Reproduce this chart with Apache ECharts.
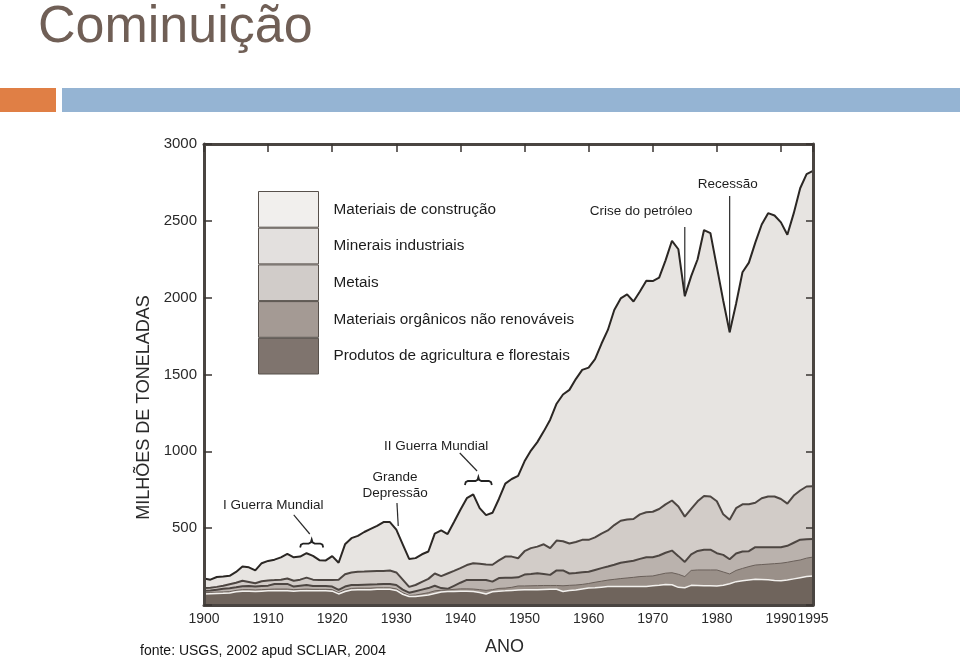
<!DOCTYPE html>
<html>
<head>
<meta charset="utf-8">
<script src="https://cdn.jsdelivr.net/npm/echarts@6/dist/echarts.min.js"></script>
<style>html,body{margin:0;padding:0;background:#ffffff}#c{width:960px;height:661px}</style>
</head>
<body>
<div id="c"></div>
<script>
// Anos (eixo X)
const anos = [1900,1901,1902,1903,1904,1905,1906,1907,1908,1909,
1910,1911,1912,1913,1914,1915,1916,1917,1918,1919,
1920,1921,1922,1923,1924,1925,1926,1927,1928,1929,
1930,1931,1932,1933,1934,1935,1936,1937,1938,1939,
1940,1941,1942,1943,1944,1945,1946,1947,1948,1949,
1950,1951,1952,1953,1954,1955,1956,1957,1958,1959,
1960,1961,1962,1963,1964,1965,1966,1967,1968,1969,
1970,1971,1972,1973,1974,1975,1976,1977,1978,1979,
1980,1981,1982,1983,1984,1985,1986,1987,1988,1989,
1990,1991,1992,1993,1994,1995];

// Topo de cada camada empilhada (valores acumulados, milhões de toneladas)
const topoConstrucao = [172,165,182,185,190,215,250,245,225,272,
287,295,310,332,310,315,337,320,292,290,
318,275,395,435,450,475,495,515,540,540,
490,395,300,305,330,348,465,485,462,540,
620,695,720,630,585,600,690,790,820,840,
935,1005,1060,1130,1206,1310,1370,1400,1470,1530,
1545,1600,1700,1790,1920,1995,2021,1975,2040,2110,
2108,2130,2243,2370,2315,2010,2140,2250,2440,2420,
2200,1980,1775,1960,2165,2228,2358,2476,2550,2535,
2490,2410,2550,2712,2804,2825];

const topoMinerais = [110,112,118,125,135,145,158,150,142,155,
160,162,165,172,158,165,178,165,163,163,
163,165,200,212,217,218,220,222,222,224,
212,165,118,130,150,170,205,188,205,222,
240,260,272,268,264,262,290,315,315,304,
350,370,380,395,370,419,415,400,410,424,
424,440,465,485,520,548,556,560,590,604,
607,625,655,680,641,575,625,675,710,706,
675,590,555,630,655,656,665,695,706,706,
690,660,712,745,771,772];

const topoMetais = [92,95,100,105,109,115,122,124,120,124,
126,137,137,137,120,125,130,124,124,124,
120,98,120,130,130,132,134,135,137,137,
130,100,80,90,100,110,125,110,105,125,
145,163,163,163,163,152,175,177,178,180,
198,202,207,202,196,225,225,205,208,213,
216,228,240,250,262,275,282,288,300,311,
311,322,340,354,318,280,330,352,360,360,
337,326,298,335,348,350,376,376,376,376,
376,385,405,425,428,430];

const topoOrganicos = [80,82,84,85,87,95,100,100,98,100,
102,104,104,104,100,102,104,102,102,102,
100,80,98,108,110,110,110,112,112,112,
105,80,62,65,72,80,92,96,98,102,
105,105,104,100,95,100,108,110,115,124,
124,125,126,127,127,127,125,128,130,134,
140,148,155,162,167,172,176,180,185,187,
189,198,207,210,200,185,225,228,228,228,
228,215,202,225,238,250,260,263,266,269,
272,278,286,293,305,312];

const topoAgricultura = [72,74,75,76,78,86,90,90,88,90,
92,93,93,93,90,92,93,92,92,92,
90,72,88,98,100,100,100,102,102,102,
95,70,55,55,60,65,75,85,88,88,
90,90,88,82,72,86,90,92,95,98,
100,100,100,101,102,102,88,95,98,104,
110,112,116,120,120,120,120,120,120,120,
125,128,133,132,115,112,128,127,126,125,
124,128,138,152,158,163,167,166,164,160,
158,162,170,178,185,188];

const nomes = ['Materiais de construção','Minerais industriais','Metais','Materiais orgânicos não renováveis','Produtos de agricultura e florestais'];
const ticksAno = [1900,1910,1920,1930,1940,1950,1960,1970,1980,1990,1995];

const FONT = 'Liberation Sans, Arial, sans-serif';
const chart = echarts.init(document.getElementById('c'), null, {renderer:'canvas'});

const camadas = [
  {name:nomes[0], arr:topoConstrucao, area:'#e7e4e1', line:'#2b2724', lw:2, leg:'#f1efed'},
  {name:nomes[1], arr:topoMinerais, area:'#d2ccc8', line:'#4d4642', lw:2, leg:'#e3e0de'},
  {name:nomes[2], arr:topoMetais, area:'#bab2ad', line:'#4d4642', lw:2, leg:'#d1ccc9'},
  {name:nomes[3], arr:topoOrganicos, area:'#9a9089', line:'#6a605a', lw:1, leg:'#a49a94'},
  {name:nomes[4], arr:topoAgricultura, area:'#6f645c', line:'#f3f1ee', lw:1.5, leg:'#7f746e'}
];

const frame = {color:'#4a4541', width:3};
const tickStyle = {color:'#3a3532', width:1.5};

chart.setOption({
  animation:false,
  backgroundColor:'#ffffff',
  title:[
    {text:'Cominuição', left:38, top:2, padding:0,
     textStyle:{fontSize:52, fontWeight:'normal', color:'#705f56', fontFamily:FONT}},
    {text:'fonte: USGS, 2002 apud SCLIAR, 2004', left:140, top:644, padding:0,
     textStyle:{fontSize:14, fontWeight:'normal', color:'#141414', fontFamily:FONT}}
  ],
  legend:{
    orient:'vertical', left:258, top:191, padding:0, itemGap:0,
    itemWidth:60, itemHeight:35.7, icon:'rect', selectedMode:false,
    data: camadas.map(c => ({name:c.name, itemStyle:{color:c.leg, borderColor:'#57504b', borderWidth:1}})),
    textStyle:{fontSize:15.3, color:'#1c1c1c', fontFamily:FONT, padding:[0,0,0,10]}
  },
  grid:{left:204, right:147, top:144, bottom:56, containLabel:false},
  xAxis:[
    {type:'value', min:1900, max:1995, interval:10, position:'bottom', z:5,
     axisLine:{show:true, onZero:false, lineStyle:frame},
     axisTick:{show:false}, splitLine:{show:false},
     axisLabel:{color:'#2a2a2a', fontSize:14, margin:7, fontFamily:FONT,
                formatter: v => (ticksAno.indexOf(v) >= 0 ? String(v) : '')},
     name:'ANO', nameLocation:'middle', nameGap:33,
     nameTextStyle:{fontSize:18, color:'#2a2a2a', fontFamily:FONT, padding:[0,8,0,0]}},
    {type:'value', min:1900, max:1995, interval:10, position:'top', z:5,
     axisLine:{show:true, onZero:false, lineStyle:frame},
     axisTick:{show:true, inside:true, length:8, lineStyle:tickStyle},
     axisLabel:{show:false}, splitLine:{show:false}}
  ],
  yAxis:[
    {type:'value', min:0, max:3000, interval:500, position:'left', z:5,
     axisLine:{show:true, onZero:false, lineStyle:frame},
     axisTick:{show:true, inside:true, length:8, lineStyle:tickStyle},
     splitLine:{show:false},
     axisLabel:{color:'#2a2a2a', fontSize:15, margin:7, fontFamily:FONT,
                formatter: v => (v === 0 ? '' : String(v))},
     name:'MILHÕES DE TONELADAS', nameLocation:'middle', nameGap:47,
     nameTextStyle:{fontSize:18, color:'#2a2a2a', fontFamily:FONT, padding:[0,66,0,0]}},
    {type:'value', min:0, max:3000, interval:500, position:'right', z:5,
     axisLine:{show:true, onZero:false, lineStyle:frame},
     axisTick:{show:true, inside:true, length:7, lineStyle:tickStyle},
     axisLabel:{show:false}, splitLine:{show:false}}
  ],
  series: camadas.map(c => ({
    name:c.name, type:'line', xAxisIndex:0, yAxisIndex:0, z:2,
    data: anos.map((a,i) => [a, c.arr[i]]),
    symbol:'none', showSymbol:false, smooth:false,
    lineStyle:{color:c.line, width:c.lw},
    itemStyle:{color:c.leg},
    areaStyle:{color:c.area, opacity:1},
    emphasis:{disabled:true}, silent:true
  }))
});

// Anotações (posições em coordenadas de dados: [ano, valor])
const notas = [
  {text:'I Guerra Mundial', at:[1910.8, 651]},
  {text:'Grande', at:[1929.8, 833]},
  {text:'Depressão', at:[1929.8, 729]},
  {text:'II Guerra Mundial', at:[1936.2, 1035]},
  {text:'Crise do petróleo', at:[1968.2, 2564]},
  {text:'Recessão', at:[1981.7, 2740]}
];
const guias = [
  [[1914.0, 586],[1916.5, 462]],
  [[1930.1, 664],[1930.3, 514]],
  [[1939.9, 989],[1942.6, 872]],
  [[1975, 2460],[1975, topoConstrucao[anos.indexOf(1975)]]],
  [[1982, 2662],[1982, topoConstrucao[anos.indexOf(1982)]]]
];
const chaves = [
  {de:1915.0, ate:1918.6, v:400},
  {de:1940.7, ate:1944.9, v:807}
];

const px = p => chart.convertToPixel({xAxisIndex:0, yAxisIndex:0}, p);
const g = [];
g.push({type:'rect', shape:{x:0, y:88, width:56, height:24}, style:{fill:'#e07f45'}, silent:true});
g.push({type:'rect', shape:{x:62, y:88, width:898, height:24}, style:{fill:'#95b4d3'}, silent:true});
notas.forEach(n => {
  const p = px(n.at);
  g.push({type:'text', x:p[0], y:p[1], z:10, silent:true,
    style:{text:n.text, fill:'#1e1e1e', fontSize:13.5, fontFamily:FONT, align:'center', verticalAlign:'middle'}});
});
guias.forEach(l => {
  const a = px(l[0]), b = px(l[1]);
  g.push({type:'line', z:10, silent:true, shape:{x1:a[0], y1:a[1], x2:b[0], y2:b[1]},
    style:{stroke:'#2a2a2a', lineWidth:1.2}});
});
chaves.forEach(c => {
  const a = px([c.de, c.v]), b = px([c.ate, c.v]);
  const x0 = a[0], x1 = b[0], y = a[1], xm = (x0 + x1) / 2;
  const pts = [[x0, y+4],[x0+0.8, y+1.2],[x0+3, y],[xm-3, y],[xm-0.8, y-1.2],[xm, y-4],
               [xm+0.8, y-1.2],[xm+3, y],[x1-3, y],[x1-0.8, y+1.2],[x1, y+4]];
  g.push({type:'polyline', z:10, silent:true, shape:{points:pts},
    style:{stroke:'#222', lineWidth:1.8, fill:null}});
});
chart.setOption({graphic: g});
</script>
</body>
</html>
